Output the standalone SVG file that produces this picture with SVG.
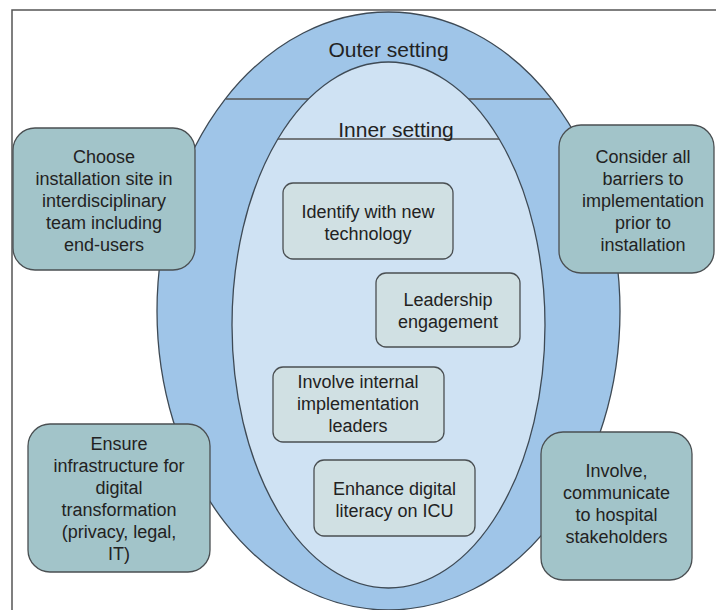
<svg xmlns="http://www.w3.org/2000/svg" width="716" height="610" viewBox="0 0 716 610">
<style>
.t{font-family:"Liberation Sans",Arial,sans-serif;font-size:18px;fill:#222;text-anchor:middle}
.h{font-family:"Liberation Sans",Arial,sans-serif;font-size:21px;fill:#222;text-anchor:middle}
.ob{fill:#a2c4c9;stroke:#4a4f52;stroke-width:1.3}
.ib{fill:#d0e0e3;stroke:#4a4f52;stroke-width:1.3}
.sep{stroke:#555;stroke-width:1.3;fill:none}
</style>
<rect x="0" y="0" width="716" height="610" fill="#fff"/>
<rect x="12" y="10" width="740" height="640" fill="none" stroke="#555" stroke-width="1.5"/>
<g id="outer-setting">
<ellipse cx="388.5" cy="311" rx="231.5" ry="299" fill="#9fc5e8" stroke="#3e4a55" stroke-width="1.3"/>
<line class="sep" x1="226" y1="99" x2="551" y2="99"/>
<text class="h" x="388.5" y="57">Outer setting</text>
</g>
<g id="inner-setting">
<ellipse cx="388.5" cy="325" rx="156.5" ry="263" fill="#cfe2f3" stroke="#3e4a55" stroke-width="1.3"/>
<line class="sep" x1="278" y1="139" x2="499" y2="139"/>
<text class="h" x="396" y="137">Inner setting</text>
</g>
<g id="connectors"></g>
<g id="choose">
<rect class="ob" x="13" y="128" width="182" height="142" rx="22"/>
<text class="t" x="104" y="163">Choose</text>
<text class="t" x="104" y="185">installation site in</text>
<text class="t" x="104" y="207">interdisciplinary</text>
<text class="t" x="104" y="229">team including</text>
<text class="t" x="104" y="251">end-users</text>
</g>
<g id="consider">
<rect class="ob" x="559" y="125" width="155" height="148" rx="22"/>
<text class="t" x="643" y="163">Consider all</text>
<text class="t" x="643" y="185">barriers to</text>
<text class="t" x="643" y="207">implementation</text>
<text class="t" x="643" y="229">prior to</text>
<text class="t" x="643" y="251">installation</text>
</g>
<g id="ensure">
<rect class="ob" x="28" y="424" width="182" height="148" rx="22"/>
<text class="t" x="119" y="450">Ensure</text>
<text class="t" x="119" y="472">infrastructure for</text>
<text class="t" x="119" y="494">digital</text>
<text class="t" x="119" y="516">transformation</text>
<text class="t" x="119" y="538">(privacy, legal,</text>
<text class="t" x="119" y="560">IT)</text>
</g>
<g id="involve-communicate">
<rect class="ob" x="541" y="432" width="151" height="148" rx="22"/>
<text class="t" x="616.5" y="477">Involve,</text>
<text class="t" x="616.5" y="499">communicate</text>
<text class="t" x="616.5" y="521">to hospital</text>
<text class="t" x="616.5" y="543">stakeholders</text>
</g>
<g id="identify">
<rect class="ib" x="283" y="183" width="170" height="76" rx="10"/>
<text class="t" x="368" y="218">Identify with new</text>
<text class="t" x="368" y="240">technology</text>
</g>
<g id="leadership">
<rect class="ib" x="376" y="273" width="144" height="74" rx="10"/>
<text class="t" x="448" y="306">Leadership</text>
<text class="t" x="448" y="328">engagement</text>
</g>
<g id="involve-internal">
<rect class="ib" x="273" y="367" width="171" height="75" rx="10"/>
<text class="t" x="358" y="388">Involve internal</text>
<text class="t" x="358" y="410">implementation</text>
<text class="t" x="358" y="432">leaders</text>
</g>
<g id="enhance">
<rect class="ib" x="314" y="460" width="161" height="76" rx="10"/>
<text class="t" x="394.5" y="495">Enhance digital</text>
<text class="t" x="394.5" y="517">literacy on ICU</text>
</g>
</svg>
